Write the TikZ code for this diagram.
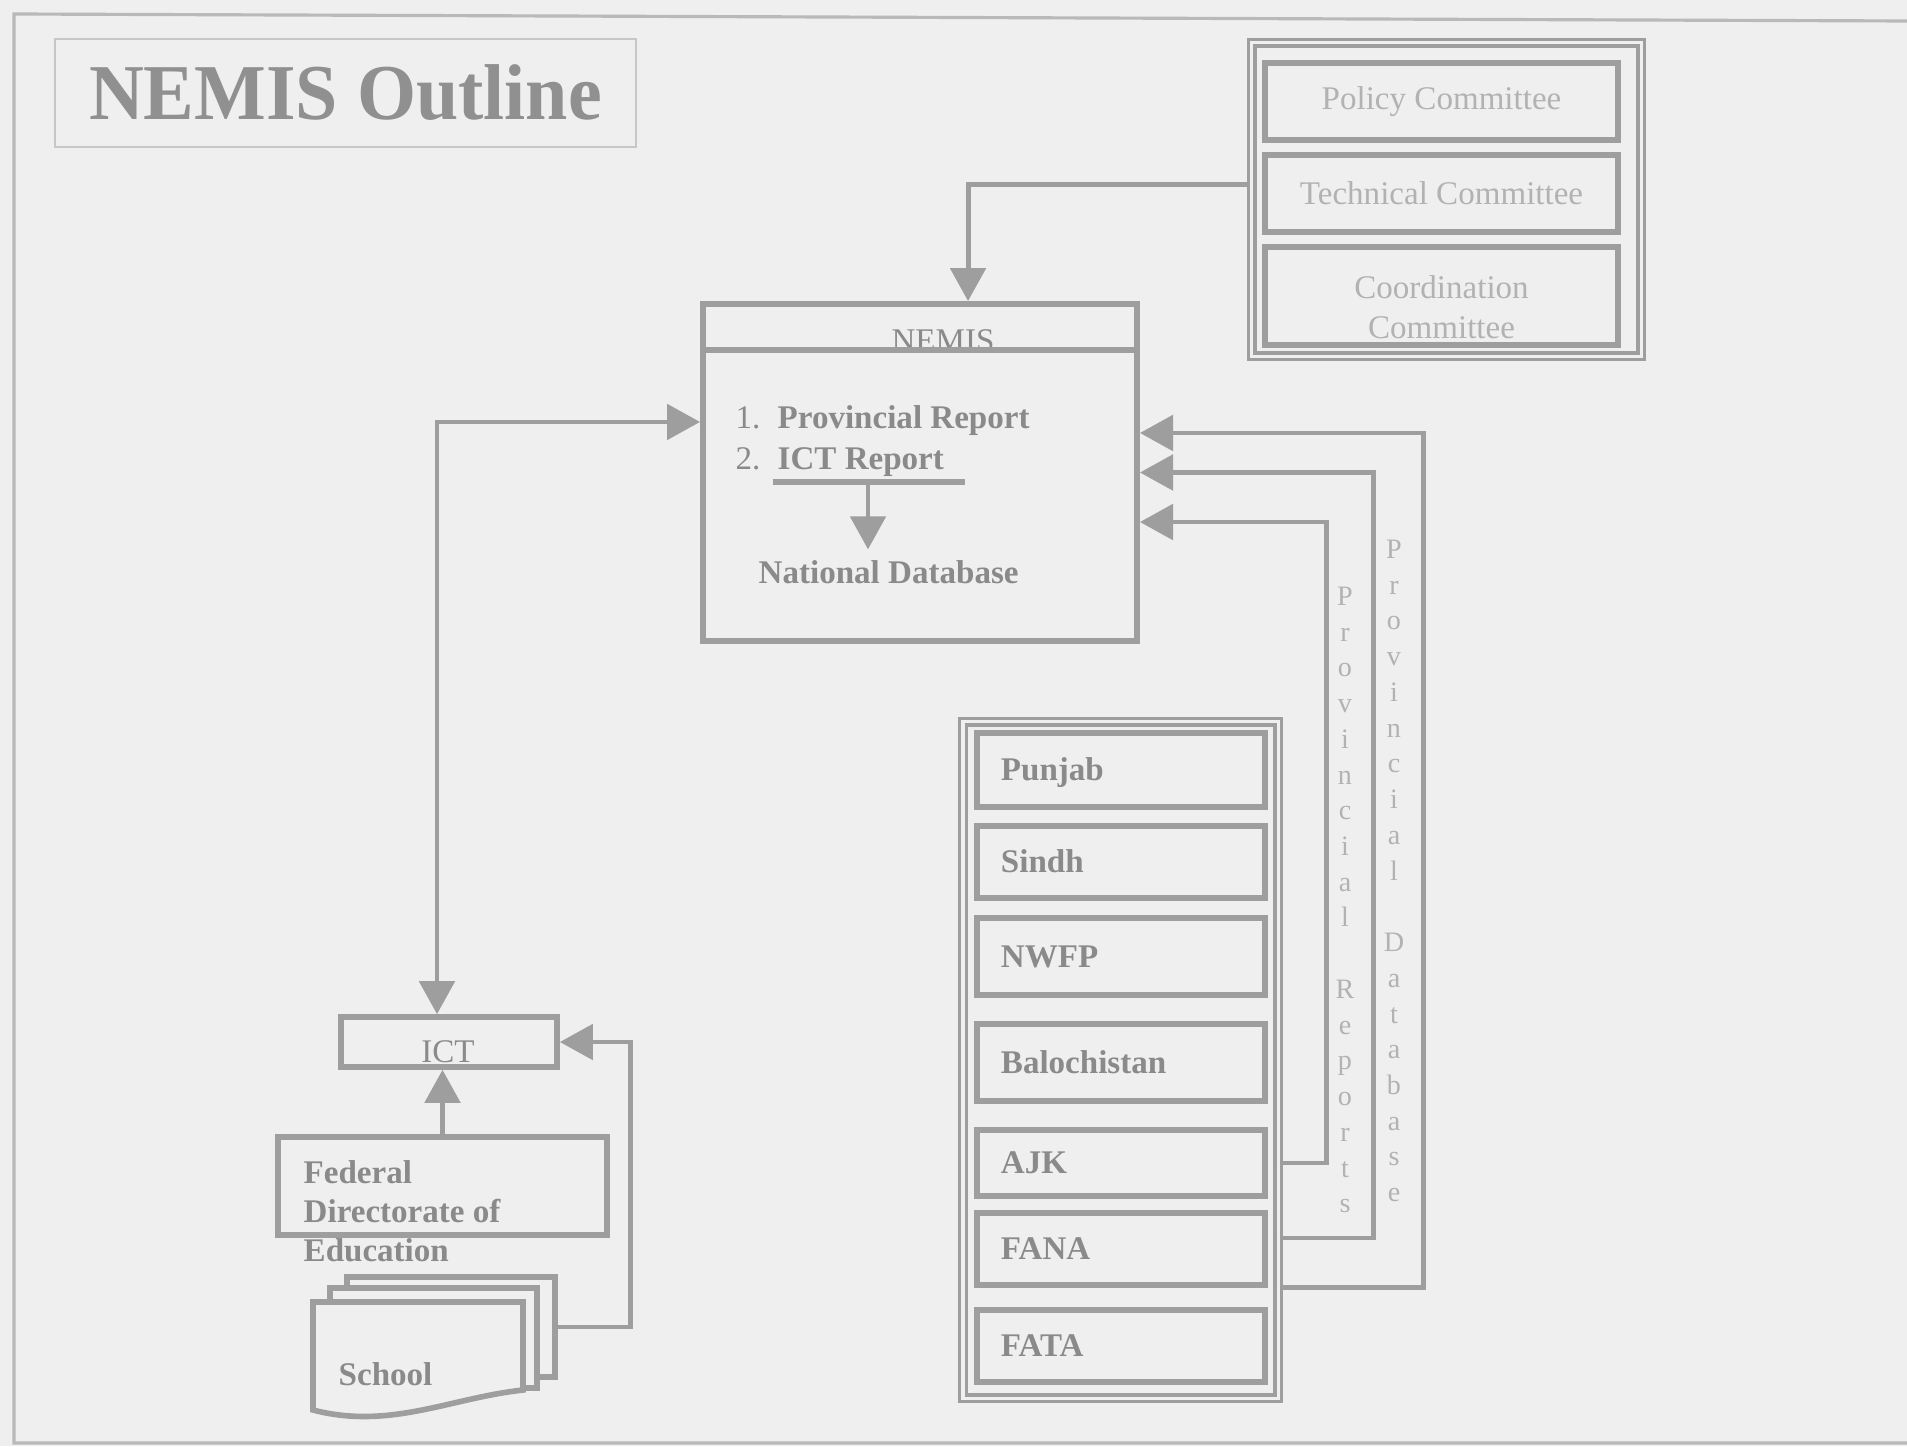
\documentclass[tikz,border=0pt]{standalone}
\usepackage{fontspec}
\setmainfont{Liberation Serif}
\usepackage{graphicx}
\usetikzlibrary{arrows.meta,calc,positioning}
\definecolor{paper}{RGB}{239,239,239}
\definecolor{linegray}{RGB}{158,158,158}
\definecolor{inkgray}{RGB}{138,138,138}
\definecolor{palegray}{RGB}{178,178,178}
\definecolor{rulegray}{RGB}{185,185,185}

\begin{document}
\begin{tikzpicture}[x=0.01cm,y=-0.01cm,
  box/.style={draw=linegray,line width=1.6pt,fill=paper,inner sep=0pt},
  dbox/.style={draw=linegray,line width=0.9pt,double=paper,double distance=0.9pt,inner sep=0pt},
  lbl/.style={text=inkgray,font=\fontsize{9.4}{11.1}\selectfont\bfseries,inner sep=0pt},
  reg/.style={text=inkgray,font=\fontsize{9.4}{11.1}\selectfont,inner sep=0pt},
  com/.style={text=palegray,font=\fontsize{9.4}{11.4}\selectfont,inner sep=0pt},
  vtxt/.style={text=palegray,font=\fontsize{8}{10.16}\selectfont,align=center,inner sep=0pt},
  provbox/.style={box,lbl,minimum width=2.88cm,text width=2.40cm,align=left,text height=0.21cm,text depth=0pt},
  rule/.style={draw=linegray,line width=1.6pt},
  arr/.style={-{Triangle[length=9.4pt,width=10pt]},draw=linegray,line width=1.4pt},
  arrs/.style={{Triangle[length=9.4pt,width=10pt]}-{Triangle[length=9.4pt,width=10pt]},draw=linegray,line width=1.4pt},
]
\fill[paper] (0,0) rectangle (1907,1446);
\useasboundingbox (0,0) rectangle (1907,1446);
\draw[rulegray,line width=0.9pt] (1907,21) -- (14,14) -- (14,1443) -- (1907,1443);

% ---- Title ----
\node[draw=rulegray!80,line width=0.6pt,minimum width=5.81cm,minimum height=1.08cm,inner sep=0pt,
      text=inkgray!95,font=\fontsize{22.5}{24}\selectfont\bfseries] (title) at (345.5,93)
      {\scalebox{0.96}[1]{NEMIS Outline}};

% ---- Committees ----
\node[dbox,minimum width=3.89cm,minimum height=3.13cm] (comm) at (1446.5,199.5) {};
\node[box,com,minimum width=3.53cm,minimum height=0.77cm] (policy) at (1441.5,101.5) {Policy Committee};
\node[box,com,minimum width=3.53cm,minimum height=0.77cm] (tech) at (1441.5,193.5) {Technical Committee};
\node[box,minimum width=3.53cm,minimum height=0.98cm] (coord) at (1441.5,296) {};
\node[com,align=center] (coordtxt) at (1441.5,307) {Coordination\\Committee};

% ---- NEMIS ----
\node[box,minimum width=4.34cm,minimum height=3.37cm] (nemis) at (920,472.5) {};
\node[reg,anchor=base] (nemistxt) at (943,351) {NEMIS};
\draw[rule] ([yshift=-0.49cm]nemis.north west) -- ([yshift=-0.49cm]nemis.north east);
\node[reg,anchor=base west] (num1) at (735,428) {1.};
\node[lbl,anchor=base west] (provrep) at (777,428) {Provincial Report};
\node[reg,anchor=base west] (num2) at (735,469) {2.};
\node[lbl,anchor=base west] (ictrep) at (777,469) {ICT Report};
\node[lbl,anchor=base west] (natdb) at (758,583) {National Database};
\coordinate (ul) at (868,482);
\draw[rule] ([xshift=-0.95cm]ul) -- ([xshift=0.97cm]ul);

% ---- ICT side ----
\node[box,minimum width=2.16cm,minimum height=0.5cm] (ict) at (449,1042) {};
\node[reg,anchor=base] (icttxt) at (448,1062) {ICT};
\node[box,minimum width=3.29cm,minimum height=0.98cm] (fed) at (442.5,1186) {};
\node[lbl,anchor=north west,align=left] (fedtxt) at (303,1160) {Federal\\Directorate of\\Education};
\node[box,minimum width=2.08cm,minimum height=1cm] (sch3) at (451,1327) {};
\node[box,minimum width=2.07cm,minimum height=1cm] (sch2) at (433.5,1338) {};
\draw[box] (313,1302) -- (523,1302) -- (523,1390) .. controls (450,1398) and (390,1430) .. (313,1410) -- cycle;
\node[lbl,anchor=base west] (school) at (338,1385) {School};

% ---- Provinces ----
\node[dbox,minimum width=3.15cm,minimum height=6.76cm] (provs) at (1120.5,1060) {};
\foreach \pname/\plabel/\cy/\hh in {punjab/Punjab/770/0.74,sindh/Sindh/862/0.72,nwfp/NWFP/956.5/0.77,
    baloch/Balochistan/1062.5/0.77,ajk/AJK/1163/0.66,fana/FANA/1249/0.72,fata/FATA/1346/0.72}{
  \node[provbox,minimum height=\hh cm] (\pname) at (1121,\cy) {\plabel};
}
\node[vtxt] (reptxt) at (1345,900) {P\\r\\o\\v\\i\\n\\c\\i\\a\\l\\\mbox{}\\R\\e\\p\\o\\r\\t\\s};
\node[vtxt] (dbtxt) at (1394,871) {P\\r\\o\\v\\i\\n\\c\\i\\a\\l\\\mbox{}\\D\\a\\t\\a\\b\\a\\s\\e};

% ---- Connectors ----
\draw[arr] ($(comm.west)+(0,-15)$) -| ([xshift=0.48cm]nemis.north);
\draw[arr] (ul) -- ([yshift=0.1cm]ul |- natdb.north);
\draw[arrs] ([yshift=0.505cm]nemis.west) -| ([xshift=-0.12cm]ict.north);
\draw[arr] (fed.north) -- (fed.north |- ict.south);
\draw[arr] (sch3.east) -- ++(73,0) |- (ict.east);
\draw[arr] (ajk -| provs.east) -- ++(47,0) |- ([yshift=-0.495cm]nemis.east);
\draw[arr] ($(fana -| provs.east)+(0,-11)$) -- ++(94,0) |- (nemis.east);
\draw[arr] (fana.south -| provs.east) -- ++(144,0) |- ([yshift=0.395cm]nemis.east);
\end{tikzpicture}
\end{document}
